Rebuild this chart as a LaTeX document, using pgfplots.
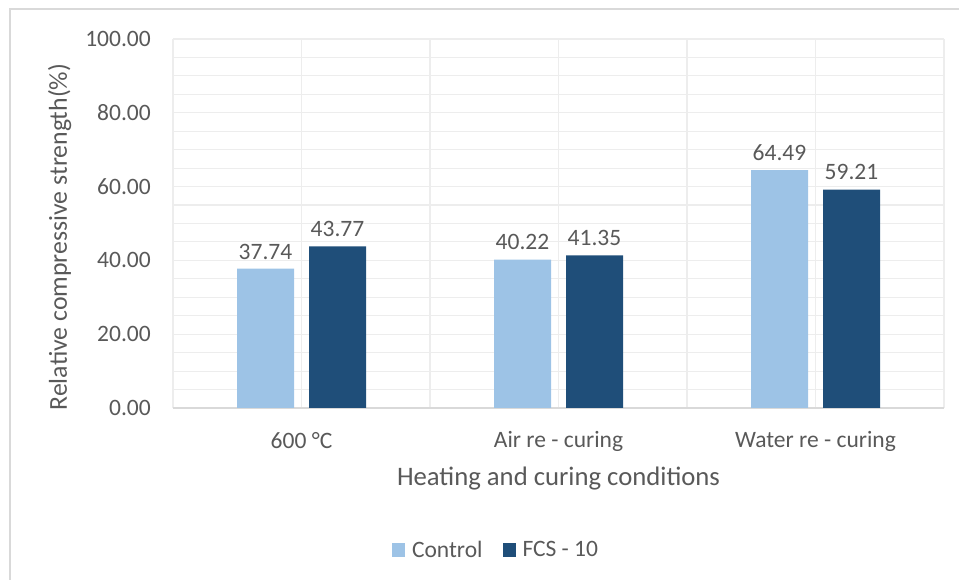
\documentclass[border=0pt]{standalone}
\usepackage{pgfplots}
\pgfplotsset{compat=1.18}
\usepackage{fontspec}
\setmainfont{Carlito}
\definecolor{ctrl}{HTML}{9DC3E6}
\definecolor{fcs}{HTML}{1F4E79}
\definecolor{txt}{HTML}{595959}
\definecolor{gridc}{HTML}{EDEDED}
\definecolor{axc}{HTML}{D9D9D9}
\begin{document}
\begin{tikzpicture}
\path[use as bounding box] (0,0) rectangle (959bp,580bp);
\draw[axc, line width=1.2bp] (10bp,0) -- (10bp,571bp) -- (959bp,571bp);
\begin{axis}[
  at={(173bp,172bp)}, anchor=south west,
  width=771bp, height=369bp, scale only axis,
  ybar,
  xmin=-0.5, xmax=2.5, ymin=0, ymax=100,
  xtick={0,1,2},
  xticklabels={600 °C, Air re - curing, Water re - curing},
  minor xtick={-0.5,0.5,1.5,2.5},
  ytick={0,20,40,60,80,100},
  minor ytick={5,10,15,25,30,35,45,50,55,65,70,75,85,90,95},
  grid=both,
  major grid style={gridc, line width=1.1bp},
  minor grid style={gridc, line width=1.1bp},
  major tick length=0pt, minor tick length=0pt,
  axis x line*=bottom, axis y line*=left,
  x axis line style={axc, line width=1.2bp, -},
  y axis line style={draw=none},
  /pgf/number format/assume math mode=true,
  yticklabel={\pgfmathprintnumber[fixed,fixed zerofill,precision=2]{\tick}},
  ticklabel style={font=\fontsize{23.5bp}{27bp}\selectfont, text=txt},
  yticklabel style={anchor=east, inner sep=0pt, xshift=-22bp},
  xticklabel style={anchor=center, inner sep=0pt, yshift=-33bp},
  ylabel={Relative compressive strength(\%)},
  xlabel={Heating and curing conditions},
  xlabel style={font=\fontsize{26.7bp}{31bp}\selectfont, text=txt, at={(axis description cs:0.5,-0.192)}, anchor=center},
  ylabel style={font=\fontsize{25.8bp}{30bp}\selectfont, text=txt, at={(axis description cs:-0.147,0.463)}, anchor=center, rotate=0},
  bar width=57bp,
  nodes near coords,
  nodes near coords style={font=\fontsize{23.5bp}{27bp}\selectfont, text=txt, anchor=south, yshift=6bp,
    /pgf/number format/.cd, fixed, fixed zerofill, precision=2, assume math mode=true},
  legend style={at={(axis description cs:0.419,-0.385)}, anchor=center, draw=none, fill=none,
    legend columns=2, font=\fontsize{23.5bp}{27bp}\selectfont, text=txt,
    /tikz/every odd column/.append style={column sep=5bp},
    /tikz/every even column/.append style={column sep=18bp}},
  legend image code/.code={\fill[#1] (0bp,-7bp) rectangle (13bp,7bp);},
]
\addplot[fill=ctrl, draw=none, bar shift=-36bp] coordinates {(0,37.74) (1,40.22) (2,64.49)};
\addplot[fill=fcs, draw=none, bar shift=36bp] coordinates {(0,43.77) (1,41.35) (2,59.21)};
\legend{Control, FCS - 10}
\end{axis}
\end{tikzpicture}
\end{document}
